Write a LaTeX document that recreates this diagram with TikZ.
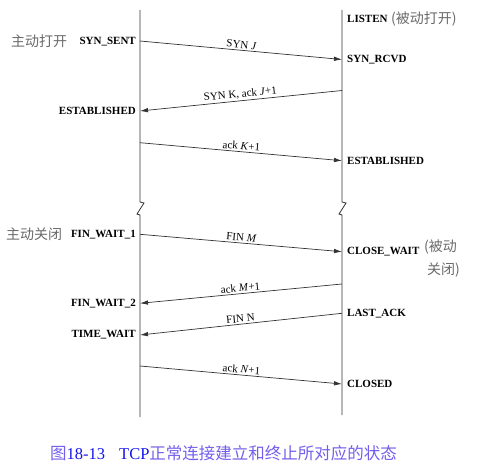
\documentclass[tikz,border=0pt]{standalone}
\usepackage{fontspec}
\setmainfont{Liberation Serif}
\newfontfamily\cjk{Noto Sans CJK SC}
\usetikzlibrary{arrows.meta}
\definecolor{linegray}{RGB}{50,50,50}
\definecolor{cngray}{RGB}{105,105,105}
\definecolor{capblue}{RGB}{20,20,235}
\definecolor{capviolet}{RGB}{115,95,235}
\begin{document}
\begin{tikzpicture}[x=1pt,y=-1pt,
  life/.style={draw=linegray, line width=0.8pt},
  msg/.style={draw=linegray, line width=0.7pt, -{Latex[length=8pt,width=4.5pt]}},
  mlabel/.style={font=\fontsize{11}{12}\selectfont, sloped, above, inner sep=1.5pt, midway},
  stateL/.style={font=\bfseries\fontsize{11}{12}\selectfont, anchor=east, inner sep=0pt},
  stateR/.style={font=\bfseries\fontsize{11}{12}\selectfont, anchor=west, inner sep=0pt},
  cn/.style={font=\cjk\fontsize{14}{15}\selectfont, text=cngray, inner sep=0pt, anchor=west},
]
\useasboundingbox (0,0) rectangle (482,476);
% lifelines with break
\draw[life] (140,10) -- (140,202) -- (144,203) -- (137,214) -- (140,215) -- (140,417);
\draw[life] (342,10) -- (342,202) -- (346,203) -- (339,214) -- (342,215) -- (342,415);
% endpoints
\coordinate (a1) at (140,41);   \coordinate (b1) at (342,59.5);
\coordinate (b2) at (342,90.5); \coordinate (a2) at (140,111);
\coordinate (a3) at (140,142.7);\coordinate (b3) at (342,160.7);
\coordinate (a4) at (140,234.3);\coordinate (b4) at (342,251.7);
\coordinate (b5) at (342,284);  \coordinate (a5) at (140,303.3);
\coordinate (b6) at (342,313.3);\coordinate (a6) at (140,335);
\coordinate (a7) at (140,366);  \coordinate (b7) at (342,384);
% messages
\draw[msg] (a1) -- (b1) node[mlabel] (m1) {SYN \textit{J}};
\draw[msg] (b2) -- (a2) node[mlabel] (m2) {SYN K, ack \textit{J}+1};
\draw[msg] (a3) -- (b3) node[mlabel] (m3) {ack \textit{K}+1};
\draw[msg] (a4) -- (b4) node[mlabel] (m4) {FIN \textit{M}};
\draw[msg] (b5) -- (a5) node[mlabel] (m5) {ack \textit{M}+1};
\draw[msg] (b6) -- (a6) node[mlabel] (m6) {FIN N};
\draw[msg] (a7) -- (b7) node[mlabel] (m7) {ack \textit{N}+1};
% left states
\node[stateL] (synsent) at (136,41.5) {SYN\_SENT};
\node[stateL] (estl) at (136,111) {ESTABLISHED};
\node[stateL] (fw1) at (136,234.3) {FIN\_WAIT\_1};
\node[stateL] (fw2) at (136,303.3) {FIN\_WAIT\_2};
\node[stateL] (tw) at (136,335) {TIME\_WAIT};
% right states
\node[stateR] (listen) at (347,18.5) {LISTEN};
\node[stateR] (synrcvd) at (347,60) {SYN\_RCVD};
\node[stateR] (estr) at (347,160.7) {ESTABLISHED};
\node[stateR] (cw) at (347,252) {CLOSE\_WAIT};
\node[stateR] (la) at (347,313.3) {LAST\_ACK};
\node[stateR] (closed) at (347,384) {CLOSED};
% chinese notes
\node[cn] (aopen) at (11,41.5) {主动打开};
\node[cn] (aclose) at (6,234.3) {主动关闭};
\node[cn] (popen) at (391,18.5) {(被动打开)};
\node[cn] (pclose1) at (424,246.7) {(被动};
\node[cn] (pclose2) at (427,270) {关闭)};
% caption
\node[anchor=west, inner sep=0pt, font=\fontsize{16.5}{18}\selectfont] (cap) at (50,453)
  {\textcolor{capviolet}{\cjk 图}\textcolor{capblue}{18-13\hspace{14pt}TCP}\textcolor{capviolet}{\cjk 正常连接建立和终止所对应的状态}};
\end{tikzpicture}
\end{document}
